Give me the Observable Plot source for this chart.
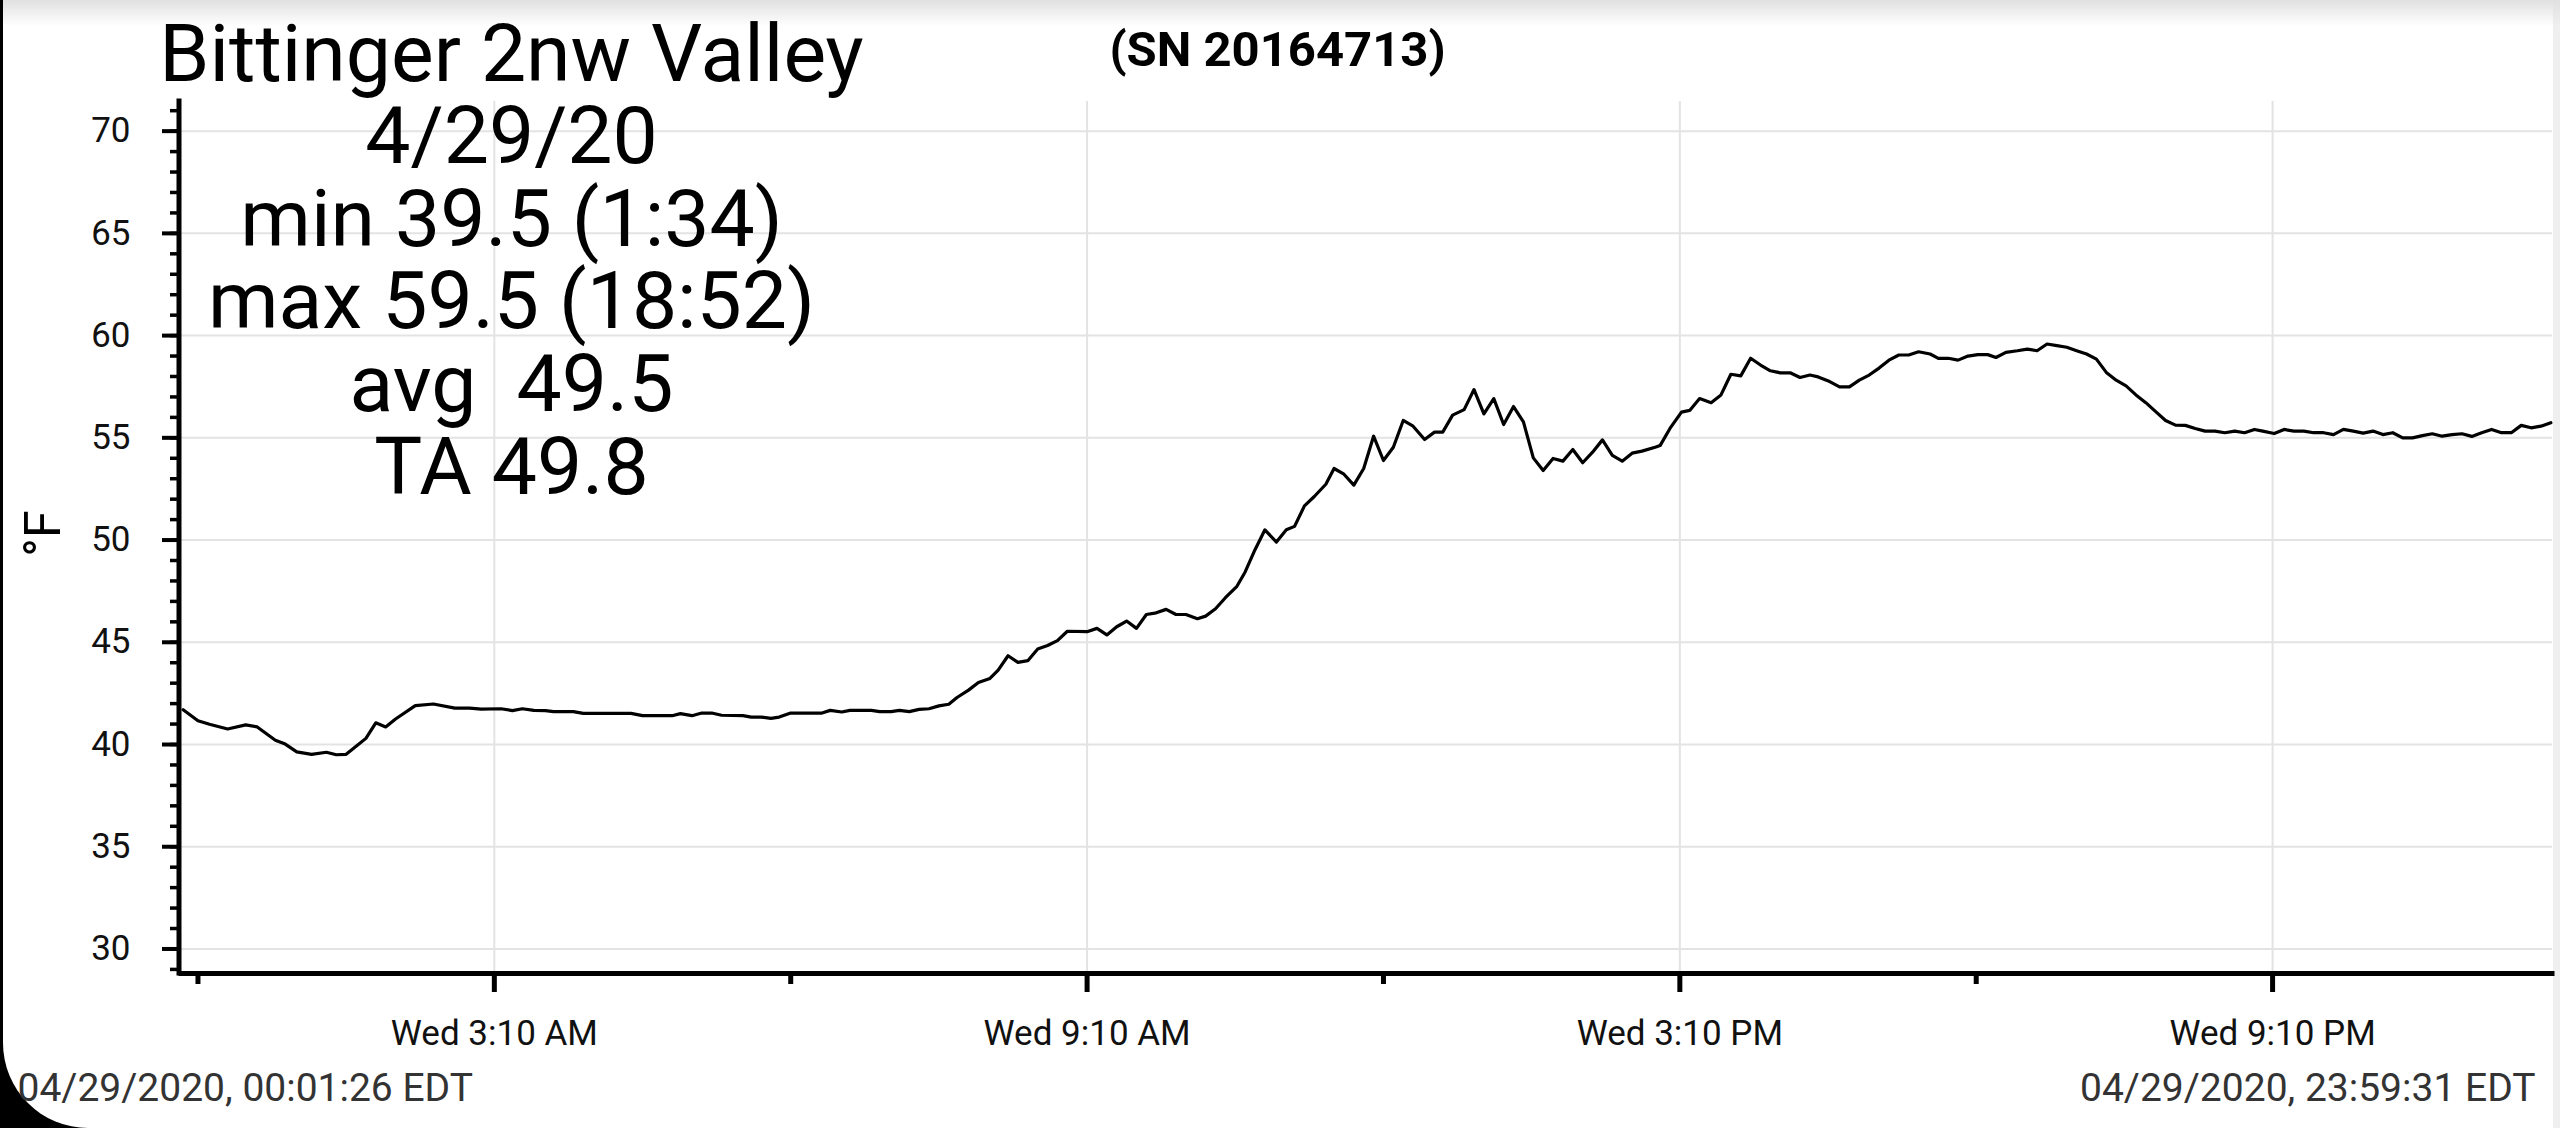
<!DOCTYPE html>
<html>
<head>
<meta charset="utf-8">
<script src="https://cdn.jsdelivr.net/npm/d3@7"></script>
<script src="https://cdn.jsdelivr.net/npm/@observablehq/plot@0.6"></script>
<style>
  html, body { margin: 0; padding: 0; background: #000; }
  #page { position: relative; width: 2560px; height: 1128px; overflow: hidden; background: #000; }
  #sheet { position: absolute; left: 3px; top: 0; width: 2557px; height: 1128px; background: #fff; border-bottom-left-radius: 85px; overflow: hidden; }
  #strip { position: absolute; left: 2550px; top: 0; width: 7px; height: 1128px; background: #efefef; }
  #topfade { position: absolute; left: 0; top: 0; width: 2557px; height: 26px; background: linear-gradient(to bottom, #e0e0e0 0%, rgba(255,255,255,0) 100%); }
  #chart { position: absolute; left: 0; top: 0; }
  #chart svg text { white-space: pre; }
</style>
</head>
<body>
<div id="page">
  <div id="sheet"><div id="strip"></div><div id="topfade"></div></div>
  <div id="chart"></div>
</div>
<script>
// ---- data (time of day, °F) ----
const times = ["00:01","00:10","00:17","00:28","00:39","00:46","00:57","01:03","01:10","01:19","01:28","01:34","01:40","01:47","01:52","01:58","02:04","02:10","02:22","02:33","02:46","02:55","03:02","03:14","03:21","03:27","03:34","03:41","03:46","03:58","04:04","04:33","04:40","04:58","05:03","05:10","05:16","05:22","05:28","05:41","05:46","05:52","05:58","06:03","06:10","06:29","06:34","06:41","06:46","06:59","07:04","07:11","07:16","07:22","07:28","07:34","07:40","07:46","07:51","07:58","08:04","08:11","08:16","08:22","08:28","08:34","08:40","08:46","08:52","08:58","09:10","09:16","09:22","09:28","09:34","09:40","09:46","09:52","09:58","10:04","10:10","10:17","10:22","10:28","10:34","10:41","10:46","10:52","10:58","11:05","11:11","11:16","11:22","11:28","11:35","11:40","11:46","11:52","11:58","12:04","12:10","12:16","12:22","12:28","12:35","12:41","12:46","12:52","12:59","13:05","13:11","13:17","13:23","13:29","13:35","13:41","13:47","13:53","13:59","14:05","14:11","14:17","14:23","14:29","14:35","14:41","14:47","14:55","14:58","15:04","15:11","15:16","15:22","15:29","15:35","15:41","15:47","15:53","15:59","16:05","16:11","16:17","16:23","16:29","16:34","16:41","16:47","16:53","16:59","17:05","17:11","17:17","17:23","17:29","17:35","17:42","17:47","17:53","17:59","18:05","18:11","18:17","18:22","18:28","18:35","18:41","18:47","18:53","18:59","19:05","19:11","19:17","19:23","19:29","19:35","19:41","19:47","19:53","19:59","20:05","20:11","20:17","20:23","20:29","20:35","20:41","20:47","20:53","20:59","21:04","21:11","21:17","21:23","21:29","21:35","21:41","21:47","21:53","21:59","22:05","22:11","22:17","22:23","22:29","22:35","22:41","22:47","22:53","22:59","23:05","23:11","23:17","23:23","23:29","23:35","23:41","23:47","23:53","23:59"];
const temps = [41.7,41.16,40.99,40.76,40.96,40.86,40.21,40.02,39.64,39.52,39.62,39.5,39.52,39.97,40.3,41.06,40.86,41.25,41.9,41.98,41.78,41.78,41.73,41.75,41.66,41.75,41.67,41.66,41.61,41.61,41.52,41.52,41.41,41.41,41.51,41.41,41.54,41.54,41.43,41.41,41.34,41.34,41.28,41.34,41.54,41.54,41.67,41.59,41.67,41.67,41.61,41.61,41.67,41.61,41.72,41.75,41.89,41.97,42.3,42.66,43.03,43.23,43.64,44.34,44.02,44.1,44.67,44.84,45.08,45.54,45.52,45.68,45.36,45.76,46.04,45.68,46.36,46.44,46.61,46.36,46.36,46.15,46.28,46.64,47.18,47.74,48.44,49.53,50.5,49.9,50.5,50.67,51.67,52.13,52.73,53.5,53.22,52.69,53.5,55.08,53.89,54.54,55.85,55.57,54.92,55.28,55.28,56.11,56.38,57.36,56.17,56.92,55.65,56.53,55.78,54.02,53.4,53.99,53.86,54.43,53.78,54.3,54.9,54.14,53.86,54.25,54.35,54.54,54.62,55.46,56.26,56.34,56.92,56.72,57.1,58.11,58.03,58.89,58.56,58.28,58.18,58.18,57.95,58.07,57.98,57.75,57.49,57.49,57.82,58.07,58.41,58.8,59.05,59.05,59.21,59.1,58.89,58.89,58.8,59.0,59.07,59.07,58.93,59.18,59.26,59.34,59.26,59.59,59.51,59.43,59.26,59.1,58.85,58.2,57.82,57.54,57.1,56.72,56.28,55.85,55.62,55.61,55.46,55.33,55.33,55.25,55.33,55.25,55.41,55.33,55.21,55.41,55.33,55.33,55.25,55.25,55.16,55.41,55.33,55.23,55.33,55.16,55.25,55.0,55.0,55.11,55.2,55.08,55.16,55.2,55.07,55.25,55.41,55.25,55.25,55.61,55.49,55.57,55.74];

// ---- axes / ticks ----
const yMajorTicks = [30, 35, 40, 45, 50, 55, 60, 65, 70];
const yMinorTicks = d3.range(29, 72);
const xMajorTimes = ["03:10", "09:10", "15:10", "21:10"];
const xMajorLabels = ["Wed 3:10 AM", "Wed 9:10 AM", "Wed 3:10 PM", "Wed 9:10 PM"];
const xMinorTimes = ["00:10", "06:10", "12:10", "18:10"];
const xDomainTimes = ["00:00", "24:00"];
const yDomain = [28.8, 71.45];

// ---- texts ----
const titleText = "Bittinger 2nw Valley";
const statsLines = ["4/29/20", "min 39.5 (1:34)", "max 59.5 (18:52)", "avg  49.5", "TA 49.8"];
const serialText = "(SN 20164713)";
const yUnitText = "°F";
const startStamp = "04/29/2020, 00:01:26 EDT";
const endStamp = "04/29/2020, 23:59:31 EDT";

const toDate = s => { const [h, m] = s.split(":").map(Number); return new Date(2020, 3, 29, h, m); };
const data = times.map((s, i) => ({t: toDate(s), v: temps[i]}));
const xMajor = xMajorTimes.map(toDate);
const xMinor = xMinorTimes.map(toDate);
const xDomain = xDomainTimes.map(toDate);
const labelByTime = new Map(xMajor.map((d, i) => [+d, xMajorLabels[i]]));

const FONT = "Roboto, 'Open Sans', sans-serif";

const chart = Plot.plot({
  width: 2560,
  height: 1128,
  marginLeft: 181,
  marginRight: 8,
  marginTop: 101,
  marginBottom: 155,
  style: {fontFamily: FONT, color: "#000", background: "transparent", overflow: "visible"},
  x: {type: "time", domain: xDomain, label: null},
  y: {domain: yDomain, label: null},
  marks: [
    Plot.gridY(yMajorTicks, {stroke: "#e3e3e3", strokeOpacity: 1, strokeWidth: 2}),
    Plot.gridX(xMajor, {stroke: "#e3e3e3", strokeOpacity: 1, strokeWidth: 2}),
    Plot.lineY(data, {x: "t", y: "v", stroke: "#000", strokeWidth: 3.2, strokeLinejoin: "round"}),
    // axis lines
    Plot.ruleX([xDomain[0]], {stroke: "#000", strokeWidth: 5, dx: -2.5, strokeLinecap: "square"}),
    Plot.ruleY([yDomain[0]], {stroke: "#000", strokeWidth: 5, strokeLinecap: "square"}),
    // y ticks
    Plot.axisY(yMinorTicks, {tickSize: 11, strokeWidth: 3.5, tickFormat: () => "", label: null}),
    Plot.axisY(yMajorTicks, {tickSize: 19, strokeWidth: 4, tickPadding: 32, fontSize: 35, label: null, fill: "#111"}),
    // x ticks
    Plot.axisX(xMinor, {tickSize: 11, strokeWidth: 5, tickFormat: () => "", label: null}),
    Plot.axisX(xMajor, {tickSize: 19, strokeWidth: 5, tickPadding: 28, fontSize: 35, label: null,
      tickFormat: d => labelByTime.get(+d), fill: "#111"}),
    // texts
    Plot.text([titleText], {text: d => d, frameAnchor: "top-left", dx: 330, dy: -21,
      lineAnchor: "bottom", textAnchor: "middle", fontSize: 80.5, fill: "#000"}),
    Plot.text([statsLines.join("\n")], {text: d => d, frameAnchor: "top-left", dx: 330, dy: 392,
      lineAnchor: "bottom", textAnchor: "middle", fontSize: 80.5, lineHeight: 1.026, fill: "#000"}),
    Plot.text([serialText], {text: d => d, frameAnchor: "top-left", dx: 1096, dy: -36,
      lineAnchor: "bottom", textAnchor: "middle", fontSize: 49, fontWeight: "bold", fill: "#000"}),
    Plot.text([yUnitText], {text: d => d, frameAnchor: "left", dx: -122, dy: -4, rotate: -90,
      lineAnchor: "bottom", textAnchor: "middle", fontSize: 50, fill: "#000"}),
    Plot.text([startStamp], {text: d => d, frameAnchor: "bottom-left", dx: -164, dy: 127,
      lineAnchor: "bottom", textAnchor: "start", fontSize: 39, fill: "#333"}),
    Plot.text([endStamp], {text: d => d, frameAnchor: "bottom-right", dx: -17, dy: 127,
      lineAnchor: "bottom", textAnchor: "end", fontSize: 39, fill: "#333"})
  ]
});
document.getElementById("chart").appendChild(chart);
</script>
</body>
</html>
